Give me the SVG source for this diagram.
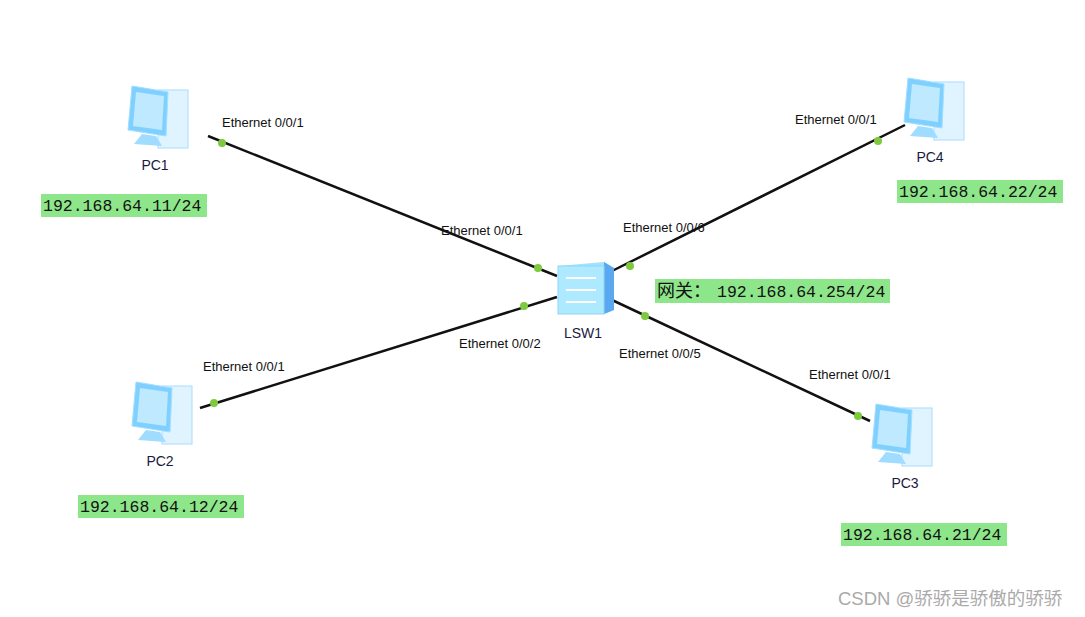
<svg xmlns="http://www.w3.org/2000/svg" width="1085" height="617" viewBox="0 0 1085 617">
<style>
.l{stroke:#111;stroke-width:2.5}
.d{fill:#7ec93e}
.p{font-family:"Liberation Sans",Arial,sans-serif;font-size:13px;fill:#111}
.n{font-family:"Liberation Sans",Arial,sans-serif;font-size:14px;fill:#1a1a40;text-anchor:middle}
.ip{font-family:"Liberation Mono","DejaVu Sans Mono",monospace;font-size:16.5px;fill:#111}
.b{fill:#8ee68a}
</style>
<defs>
<g id="pc">
<rect x="34" y="6" width="30" height="58" fill="#dff4ff" stroke="#a8dcff"/>
<path d="M8 2 L44 8 L42 52 L4 46 Z" fill="#7fd0ff" stroke="#9fe0ff"/>
<path d="M12 8 L40 12 L38 46 L9 42 Z" fill="#bfe9ff"/>
<path d="M18 50 L32 52 L38 62 L10 60 Z" fill="#9fdcff"/>
</g>
</defs>
<rect width="1085" height="617" fill="#fff"/>
<g id="connectors">
<line class="l" x1="208" y1="136" x2="557" y2="276"/>
<line class="l" x1="200" y1="408" x2="557" y2="297"/>
<line class="l" x1="905" y1="125" x2="612" y2="271"/>
<line class="l" x1="870" y1="421" x2="612" y2="300"/>
<circle class="d" cx="222" cy="143" r="4"/><circle class="d" cx="538" cy="268" r="4"/>
<circle class="d" cx="214" cy="403" r="4"/><circle class="d" cx="524" cy="306" r="4"/>
<circle class="d" cx="878" cy="141" r="4"/><circle class="d" cx="630" cy="266" r="4"/>
<circle class="d" cx="858" cy="416" r="4"/><circle class="d" cx="645" cy="316" r="4"/>
<text class="p" x="222" y="127">Ethernet 0/0/1</text>
<text class="p" x="441" y="235">Ethernet 0/0/1</text>
<text class="p" x="203" y="371">Ethernet 0/0/1</text>
<text class="p" x="459" y="348">Ethernet 0/0/2</text>
<text class="p" x="795" y="124">Ethernet 0/0/1</text>
<text class="p" x="623" y="232">Ethernet 0/0/6</text>
<text class="p" x="619" y="358">Ethernet 0/0/5</text>
<text class="p" x="809" y="379">Ethernet 0/0/1</text>
</g>
<g id="PC1"><use href="#pc" x="124" y="84"/><text class="n" x="155" y="170">PC1</text>
<rect class="b" x="41" y="194" width="166" height="23"/><text class="ip" x="43" y="211">192.168.64.11/24</text></g>
<g id="PC2"><use href="#pc" x="128" y="380"/><text class="n" x="160" y="466">PC2</text>
<rect class="b" x="78" y="495" width="166" height="23"/><text class="ip" x="80" y="512">192.168.64.12/24</text></g>
<g id="PC4"><use href="#pc" x="900" y="76"/><text class="n" x="930" y="162">PC4</text>
<rect class="b" x="897" y="180" width="166" height="23"/><text class="ip" x="899" y="197">192.168.64.22/24</text></g>
<g id="PC3"><use href="#pc" x="868" y="402"/><text class="n" x="905" y="488">PC3</text>
<rect class="b" x="841" y="523" width="166" height="23"/><text class="ip" x="843" y="540">192.168.64.21/24</text></g>
<g id="LSW1">
<path d="M558 266 L604 262 L614 268 L614 310 L604 314 L558 314 Z" fill="#9fe3ff"/>
<path d="M604 262 L614 268 L614 310 L604 314 Z" fill="#5aa8f0"/>
<rect x="558" y="266" width="46" height="48" fill="#aeeaff" stroke="#8fd6f6"/>
<path d="M566 278 H596 M566 290 H596 M566 302 H596" stroke="#fff" stroke-width="2"/>
<text class="n" x="583" y="338">LSW1</text>
<rect class="b" x="655" y="279" width="235" height="24"/>
<text class="ip" x="657" y="297"><tspan font-family="'Noto Sans CJK SC',sans-serif" font-size="18">网关：</tspan><tspan x="717">192.168.64.254/24</tspan></text>
</g>
<text x="838" y="605" style="font-family:'Liberation Sans','Noto Sans CJK SC',sans-serif;font-size:18.5px;fill:#aaa">CSDN @骄骄是骄傲的骄骄</text>
</svg>
